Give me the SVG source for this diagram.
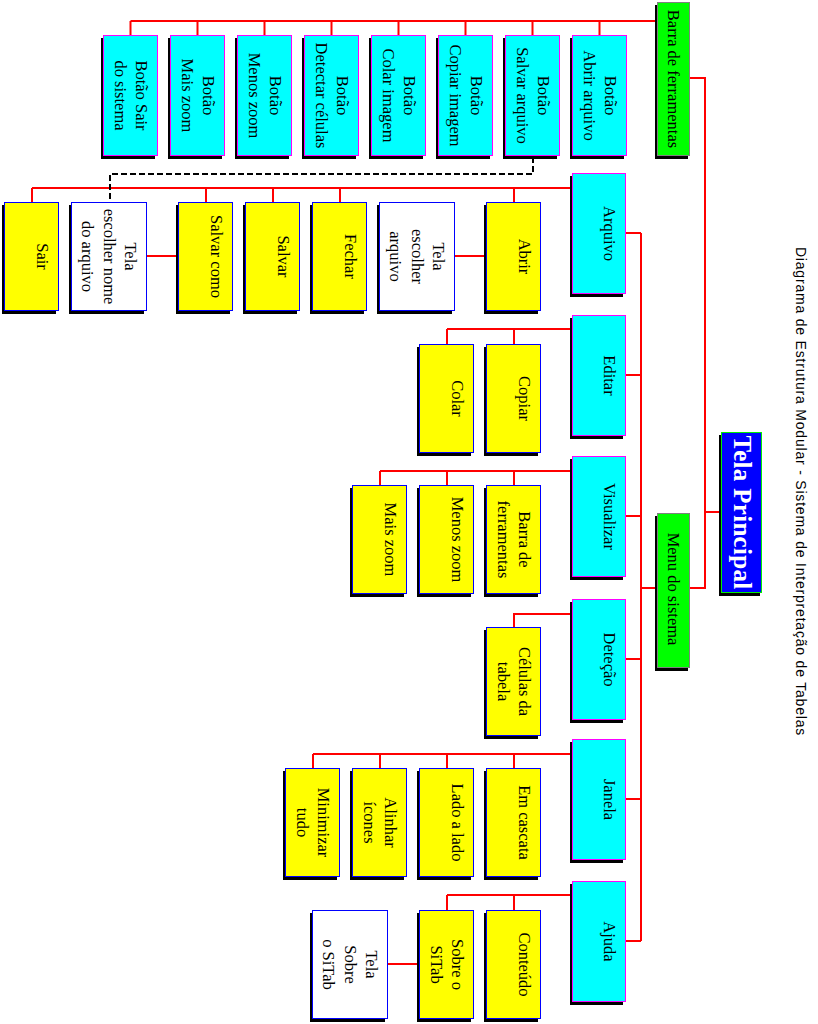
<svg xmlns="http://www.w3.org/2000/svg" width="818" height="1024" viewBox="0 0 818 1024">
<style>
.ln{stroke:#ff0000;stroke-width:2;fill:none}
.dash{stroke:#000;stroke-width:2;fill:none;stroke-dasharray:6,3}
.sh{fill:#000}
.cy{fill:#00ffff;stroke:#ff00ff;stroke-width:1}
.ye{fill:#ffff00;stroke:#0000ff;stroke-width:1}
.wh{fill:#ffffff;stroke:#0000ff;stroke-width:1}
.gr{fill:#00ff00;stroke:#808080;stroke-width:1}
.bl{fill:#0000ff;stroke:#00ee00;stroke-width:1}
.t{font-family:"Liberation Serif",serif;font-size:16.5px;fill:#000;text-anchor:middle}
.tp{font-family:"Liberation Serif",serif;font-size:25px;font-weight:bold;fill:#fff;text-anchor:middle;letter-spacing:0.3px}
.title{font-family:"Liberation Sans",Arial,sans-serif;font-size:14px;fill:#000;text-anchor:middle;letter-spacing:0.8px}
</style>
<rect width="818" height="1024" fill="#fff"/>
<g id="connectors">
<path class="ln" d="M130.5,21H657M130.5,21V35M197.5,21V35M264.5,21V35M331.5,21V35M398.5,21V35M465.5,21V35M532.5,21V35M599.5,21V35"/>
<path class="ln" d="M690,78H705V588H690M705,512H721"/>
<path class="ln" d="M657,588H641M641,233V941M626,233H641M626,375H641M626,516H641M626,659H641M626,799H641M626,941H641"/>
<path class="ln" d="M572,188H32M514,188V202M340,188V202M273,188V202M206,188V202M32,188V202M455,256H486M147,256H178"/>
<path class="ln" d="M572,329H447M514,329V344M447,329V344"/>
<path class="ln" d="M572,471H380M514,471V485M447,471V485M380,471V485"/>
<path class="ln" d="M572,614H514V627"/>
<path class="ln" d="M572,754H313M514,754V768M447,754V768M380,754V768M313,754V768"/>
<path class="ln" d="M572,895H447M514,895V910M447,895V910M388,964H419"/>
<path class="dash" d="M533,157V174H110V202"/>
</g>
<g id="tela-principal"><rect class="sh" x="719" y="435" width="41" height="161"/><rect class="bl" x="721.5" y="432.5" width="40" height="160"/><text class="tp" transform="translate(734,512.5) rotate(90)">Tela Principal</text></g>
<g id="barra-ferramentas"><rect class="sh" x="655" y="5" width="33" height="154"/><rect class="gr" x="657.5" y="2.5" width="32" height="153"/><text class="t" transform="translate(668,79) rotate(90)">Barra de ferramentas</text></g>
<g id="menu-sistema"><rect class="sh" x="655" y="516" width="33" height="155"/><rect class="gr" x="657.5" y="513.5" width="32" height="154"/><text class="t" transform="translate(668,589) rotate(90)">Menu do sistema</text></g>

<g id="btn-abrir"><rect class="sh" x="570" y="38" width="54" height="121"/><rect class="cy" x="572.5" y="35.5" width="54" height="120"/><text class="t" transform="translate(605,95.5) rotate(90)"><tspan x="0" y="0">Botão</tspan><tspan x="0" y="21.5">Abrir arquivo</tspan></text></g>
<g id="btn-salvar"><rect class="sh" x="503" y="38" width="54" height="121"/><rect class="cy" x="505.5" y="35.5" width="54" height="120"/><text class="t" transform="translate(538,95.5) rotate(90)"><tspan x="0" y="0">Botão</tspan><tspan x="0" y="21.5">Salvar arquivo</tspan></text></g>
<g id="btn-copiar"><rect class="sh" x="436" y="38" width="54" height="121"/><rect class="cy" x="438.5" y="35.5" width="54" height="120"/><text class="t" transform="translate(471,95.5) rotate(90)"><tspan x="0" y="0">Botão</tspan><tspan x="0" y="21.5">Copiar imagem</tspan></text></g>
<g id="btn-colar"><rect class="sh" x="369" y="38" width="54" height="121"/><rect class="cy" x="371.5" y="35.5" width="54" height="120"/><text class="t" transform="translate(404,95.5) rotate(90)"><tspan x="0" y="0">Botão</tspan><tspan x="0" y="21.5">Colar imagem</tspan></text></g>
<g id="btn-detectar"><rect class="sh" x="302" y="38" width="54" height="121"/><rect class="cy" x="304.5" y="35.5" width="54" height="120"/><text class="t" transform="translate(337,95.5) rotate(90)"><tspan x="0" y="0">Botão</tspan><tspan x="0" y="21.5">Detectar células</tspan></text></g>
<g id="btn-menos"><rect class="sh" x="235" y="38" width="54" height="121"/><rect class="cy" x="237.5" y="35.5" width="54" height="120"/><text class="t" transform="translate(270,95.5) rotate(90)"><tspan x="0" y="0">Botão</tspan><tspan x="0" y="21.5">Menos zoom</tspan></text></g>
<g id="btn-mais"><rect class="sh" x="168" y="38" width="54" height="121"/><rect class="cy" x="170.5" y="35.5" width="54" height="120"/><text class="t" transform="translate(203,95.5) rotate(90)"><tspan x="0" y="0">Botão</tspan><tspan x="0" y="21.5">Mais zoom</tspan></text></g>
<g id="btn-sair"><rect class="sh" x="101" y="38" width="54" height="121"/><rect class="cy" x="103.5" y="35.5" width="54" height="120"/><text class="t" transform="translate(136,95.5) rotate(90)"><tspan x="0" y="0">Botão Sair</tspan><tspan x="0" y="21.5">do sistema</tspan></text></g>

<g id="m-arquivo"><rect class="sh" x="570" y="176" width="53" height="121"/><rect class="cy" x="572.5" y="173.5" width="53" height="120"/><text class="t" transform="translate(604,233.5) rotate(90)">Arquivo</text></g>
<g id="m-editar"><rect class="sh" x="570" y="318" width="53" height="121"/><rect class="cy" x="572.5" y="315.5" width="53" height="120"/><text class="t" transform="translate(604,375.5) rotate(90)">Editar</text></g>
<g id="m-visualizar"><rect class="sh" x="570" y="459" width="53" height="121"/><rect class="cy" x="572.5" y="456.5" width="53" height="120"/><text class="t" transform="translate(604,516.5) rotate(90)">Visualizar</text></g>
<g id="m-detecao"><rect class="sh" x="570" y="602" width="53" height="121"/><rect class="cy" x="572.5" y="599.5" width="53" height="120"/><text class="t" transform="translate(604,659.5) rotate(90)">Deteção</text></g>
<g id="m-janela"><rect class="sh" x="570" y="742" width="53" height="121"/><rect class="cy" x="572.5" y="739.5" width="53" height="120"/><text class="t" transform="translate(604,799.5) rotate(90)">Janela</text></g>
<g id="m-ajuda"><rect class="sh" x="570" y="884" width="53" height="121"/><rect class="cy" x="572.5" y="881.5" width="53" height="120"/><text class="t" transform="translate(604,941.5) rotate(90)">Ajuda</text></g>

<g id="abrir"><rect class="sh" x="484" y="205" width="54" height="109"/><rect class="ye" x="486.5" y="202.5" width="54" height="108"/><text class="t" transform="translate(519,256.5) rotate(90)">Abrir</text></g>
<g id="tela-escolher-arquivo"><rect class="sh" x="377" y="205" width="75" height="109"/><rect class="wh" x="379.5" y="202.5" width="75" height="108"/><text class="t" transform="translate(433,256.5) rotate(90)"><tspan x="0" y="0">Tela</tspan><tspan x="0" y="21.5">escolher</tspan><tspan x="0" y="43">arquivo</tspan></text></g>
<g id="fechar"><rect class="sh" x="310" y="205" width="54" height="109"/><rect class="ye" x="312.5" y="202.5" width="54" height="108"/><text class="t" transform="translate(345,256.5) rotate(90)">Fechar</text></g>
<g id="salvar"><rect class="sh" x="243" y="205" width="54" height="109"/><rect class="ye" x="245.5" y="202.5" width="54" height="108"/><text class="t" transform="translate(278,256.5) rotate(90)">Salvar</text></g>
<g id="salvar-como"><rect class="sh" x="176" y="205" width="54" height="109"/><rect class="ye" x="178.5" y="202.5" width="54" height="108"/><text class="t" transform="translate(211,256.5) rotate(90)">Salvar como</text></g>
<g id="tela-escolher-nome"><rect class="sh" x="69" y="205" width="75" height="109"/><rect class="wh" x="71.5" y="202.5" width="75" height="108"/><text class="t" transform="translate(125,256.5) rotate(90)"><tspan x="0" y="0">Tela</tspan><tspan x="0" y="21.5">escolher nome</tspan><tspan x="0" y="43">do arquivo</tspan></text></g>
<g id="sair"><rect class="sh" x="2" y="205" width="54" height="109"/><rect class="ye" x="4.5" y="202.5" width="54" height="108"/><text class="t" transform="translate(37,256.5) rotate(90)">Sair</text></g>

<g id="copiar"><rect class="sh" x="484" y="347" width="54" height="109"/><rect class="ye" x="486.5" y="344.5" width="54" height="108"/><text class="t" transform="translate(519,398.5) rotate(90)">Copiar</text></g>
<g id="colar"><rect class="sh" x="417" y="347" width="54" height="109"/><rect class="ye" x="419.5" y="344.5" width="54" height="108"/><text class="t" transform="translate(452,398.5) rotate(90)">Colar</text></g>

<g id="v-barra"><rect class="sh" x="484" y="488" width="54" height="109"/><rect class="ye" x="486.5" y="485.5" width="54" height="108"/><text class="t" transform="translate(519,539.5) rotate(90)"><tspan x="0" y="0">Barra de</tspan><tspan x="0" y="21.5">ferramentas</tspan></text></g>
<g id="v-menos"><rect class="sh" x="417" y="488" width="54" height="109"/><rect class="ye" x="419.5" y="485.5" width="54" height="108"/><text class="t" transform="translate(452,539.5) rotate(90)">Menos zoom</text></g>
<g id="v-mais"><rect class="sh" x="350" y="488" width="54" height="109"/><rect class="ye" x="352.5" y="485.5" width="54" height="108"/><text class="t" transform="translate(385,539.5) rotate(90)">Mais zoom</text></g>

<g id="celulas"><rect class="sh" x="484" y="630" width="54" height="109"/><rect class="ye" x="486.5" y="627.5" width="54" height="108"/><text class="t" transform="translate(519,681.5) rotate(90)"><tspan x="0" y="0">Células da</tspan><tspan x="0" y="21.5">tabela</tspan></text></g>

<g id="cascata"><rect class="sh" x="484" y="771" width="54" height="109"/><rect class="ye" x="486.5" y="768.5" width="54" height="108"/><text class="t" transform="translate(519,822.5) rotate(90)">Em cascata</text></g>
<g id="lado"><rect class="sh" x="417" y="771" width="54" height="109"/><rect class="ye" x="419.5" y="768.5" width="54" height="108"/><text class="t" transform="translate(452,822.5) rotate(90)">Lado a lado</text></g>
<g id="alinhar"><rect class="sh" x="350" y="771" width="54" height="109"/><rect class="ye" x="352.5" y="768.5" width="54" height="108"/><text class="t" transform="translate(385,822.5) rotate(90)"><tspan x="0" y="0">Alinhar</tspan><tspan x="0" y="21.5">ícones</tspan></text></g>
<g id="minimizar"><rect class="sh" x="283" y="771" width="54" height="109"/><rect class="ye" x="285.5" y="768.5" width="54" height="108"/><text class="t" transform="translate(318,822.5) rotate(90)"><tspan x="0" y="0">Minimizar</tspan><tspan x="0" y="21.5">tudo</tspan></text></g>

<g id="conteudo"><rect class="sh" x="484" y="913" width="54" height="109"/><rect class="ye" x="486.5" y="910.5" width="54" height="108"/><text class="t" transform="translate(519,964.5) rotate(90)">Conteúdo</text></g>
<g id="sobre"><rect class="sh" x="417" y="913" width="54" height="109"/><rect class="ye" x="419.5" y="910.5" width="54" height="108"/><text class="t" transform="translate(452,964.5) rotate(90)"><tspan x="0" y="0">Sobre o</tspan><tspan x="0" y="21.5">SiTab</tspan></text></g>
<g id="tela-sobre"><rect class="sh" x="310" y="913" width="75" height="109"/><rect class="wh" x="312.5" y="910.5" width="75" height="108"/><text class="t" transform="translate(366,964.5) rotate(90)"><tspan x="0" y="0">Tela</tspan><tspan x="0" y="21.5">Sobre</tspan><tspan x="0" y="43">o SiTab</tspan></text></g>

<text class="title" transform="translate(796,491.5) rotate(90)">Diagrama de Estrutura Modular - Sistema de Interpretação de Tabelas</text>
</svg>
